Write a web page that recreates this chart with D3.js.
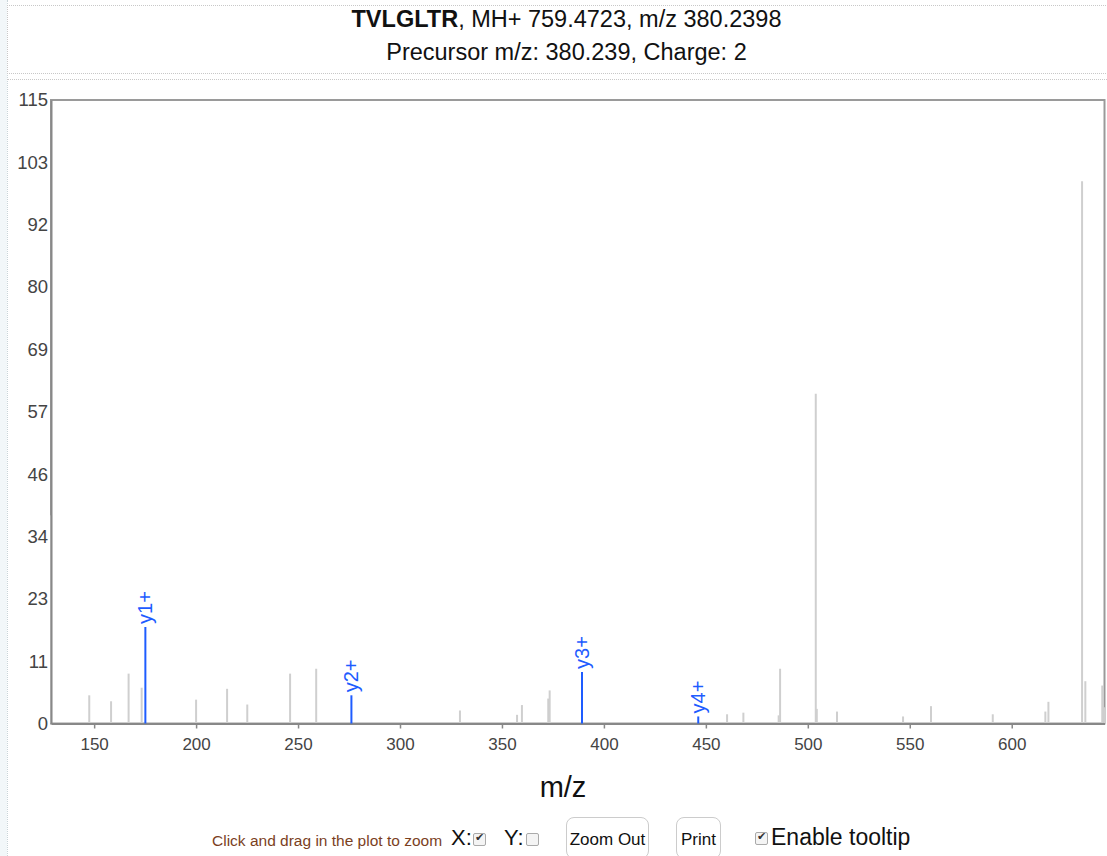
<!DOCTYPE html>
<html>
<head>
<meta charset="utf-8">
<script src="https://cdn.jsdelivr.net/npm/d3@7"></script>
<style>
  html, body { margin: 0; padding: 0; }
  body { width: 1107px; height: 856px; background: #f2f7f9; position: relative; overflow: hidden; font-family: "Liberation Sans", Arial, sans-serif; }
  #panel { position: absolute; left: 7px; top: 0; width: 1100px; height: 856px; background: #fff; border-left: 1px dotted #c8d4d8; }
  #titlebox { position: absolute; left: 7px; top: 5px; width: 1100px; height: 67px; border: 1px dotted #c8c8c8; border-right: none; background:#fff; }
  #sep { position: absolute; left: 7px; top: 79px; width: 1100px; height: 0; border-top: 1px dotted #c8c8c8; }
  #title1, #title2 { position: absolute; left: 0; width: 1133px; text-align: center; font-size: 23.5px; color: #111; white-space: nowrap; }
  #title1 { top: 6px; }
  #title2 { top: 39px; }
  svg { position: absolute; left: 0; top: 0; }
  .ctl { position: absolute; white-space: nowrap; }
  #hint { left: 212px; top: 832px; font-size: 15.5px; color: #7b3f1e; }
  .big { font-size: 22px; color: #111; }
  .cb { display:inline-block; width: 11px; height: 11px; border: 1px solid #aaa; border-radius: 2px; background: #f4f4f4; vertical-align: middle; position: relative; }
  .cb.on::after { content: "✔"; position: absolute; left: 1px; top: -3px; font-size: 11px; color: #333; }
  .btn { position: absolute; border: 1px solid #ccc; border-radius: 8px; background: #fff; font-size: 17px; color: #111; text-align: center; line-height: 44px; }
</style>
</head>
<body>
<div id="panel"></div>
<div id="titlebox"></div>
<div id="sep"></div>
<div id="title1"><b>TVLGLTR</b>, MH+ 759.4723, m/z 380.2398</div>
<div id="title2">Precursor m/z: 380.239, Charge: 2</div>
<svg id="chart" width="1107" height="856"></svg>
<div class="ctl" id="hint">Click and drag in the plot to zoom</div>
<div class="ctl big" style="left:451px; top:825px;">X:<span class="cb on" style="margin-left:1px"></span></div>
<div class="ctl big" style="left:504px; top:825px;">Y:<span class="cb" style="margin-left:2px"></span></div>
<div class="btn" style="left:566px; top:817px; width:81px; height:40px;">Zoom Out</div>
<div class="btn" style="left:676px; top:817px; width:43px; height:40px;">Print</div>
<div class="ctl big" style="left:755px; top:824px; font-size:23px;"><span class="cb on" style="margin-right:3px"></span>Enable tooltip</div>
<script>
// ---- data ----
const peakMz = [128.9, 147.6, 158.3, 166.9, 173.3, 200.0, 215.2, 225.1, 246.1, 258.9,
                329.4, 357.4, 359.8, 372.7, 373.4, 460.4, 468.4, 485.7, 486.4, 503.9,
                504.4, 514.3, 546.7, 560.4, 590.7, 616.5, 618.0, 634.5, 636.1, 644.4, 645.4];
const peakIntensity = [38.4, 5.2, 4.1, 9.2, 6.6, 4.4, 6.4, 3.5, 9.2, 10.1,
                2.4, 1.6, 3.4, 4.6, 6.1, 1.7, 2.0, 1.5, 10.1, 60.8,
                2.7, 2.2, 1.3, 3.2, 1.7, 2.2, 4.0, 100.0, 7.8, 7.0, 3.0];
const ionLabels = ["y1+", "y2+", "y3+", "y4+"];
const ionMz = [175.119, 276.167, 389.251, 446.272];
const ionIntensity = [17.8, 5.2, 9.5, 1.3];
const xDomain = [128.84, 645.5];
const yMax = 115;
const xTicks = [150, 200, 250, 300, 350, 400, 450, 500, 550, 600];
const yTicks = [0, 11.5, 23, 34.5, 46, 57.5, 69, 80.5, 92, 103.5, 115];

// ---- chart ----
const L = 51, R = 1104.5, T = 100, B = 723.5;
const svg = d3.select("#chart");
const x = d3.scaleLinear().domain(xDomain).range([L, R]);
const y = d3.scaleLinear().domain([0, yMax]).range([B, T]);

// frame
svg.append("rect").attr("x", L).attr("y", T).attr("width", R - L).attr("height", B - T)
  .attr("fill", "none").attr("stroke", "#9a9a9a").attr("stroke-width", 2);

// unlabeled peaks
svg.append("g").selectAll("line").data(peakMz.map((m, i) => ({ m, v: peakIntensity[i] })))
  .join("line")
  .attr("x1", d => x(d.m)).attr("x2", d => x(d.m))
  .attr("y1", y(0)).attr("y2", d => y(d.v))
  .attr("stroke", "#cfcfcf").attr("stroke-width", 2);

// axes
const xAxis = svg.append("g").attr("transform", `translate(0,${B})`)
  .call(d3.axisBottom(x).tickValues(xTicks).tickSize(5).tickPadding(9).tickSizeOuter(0));
const yAxis = svg.append("g").attr("transform", `translate(${L},0)`)
  .call(d3.axisLeft(y).tickValues(yTicks).tickFormat(d => Math.floor(d)).tickSize(0).tickPadding(3));
[xAxis, yAxis].forEach(g => {
  g.select(".domain").attr("stroke", "#888").attr("stroke-width", 2);
  g.selectAll(".tick line").attr("stroke", "#888").attr("stroke-width", 1.5);
  g.selectAll("text").attr("fill", "#444").attr("font-family", "Liberation Sans, Arial, sans-serif");
});
xAxis.selectAll("text").attr("font-size", 17);
yAxis.selectAll("text").attr("font-size", 18.5);

// labeled ions
const ions = ionMz.map((m, i) => ({ m, v: ionIntensity[i], t: ionLabels[i] }));
const ig = svg.append("g");
ig.selectAll("line").data(ions).join("line")
  .attr("x1", d => x(d.m)).attr("x2", d => x(d.m))
  .attr("y1", y(0)).attr("y2", d => y(d.v))
  .attr("stroke", "#1e5cff").attr("stroke-width", 2);
ig.selectAll("text").data(ions).join("text")
  .attr("transform", d => `translate(${x(d.m)},${y(d.v) - 3}) rotate(-90)`)
  .attr("dy", "0.35em")
  .attr("text-anchor", "start")
  .attr("font-size", 20)
  .attr("font-family", "Liberation Sans, Arial, sans-serif")
  .attr("fill", "#1e5cff")
  .text(d => d.t);

// x axis title
svg.append("text").attr("x", 563).attr("y", 797).attr("text-anchor", "middle")
  .attr("font-size", 29).attr("font-family", "Liberation Sans, Arial, sans-serif")
  .attr("fill", "#111").text("m/z");
</script>
</body>
</html>
